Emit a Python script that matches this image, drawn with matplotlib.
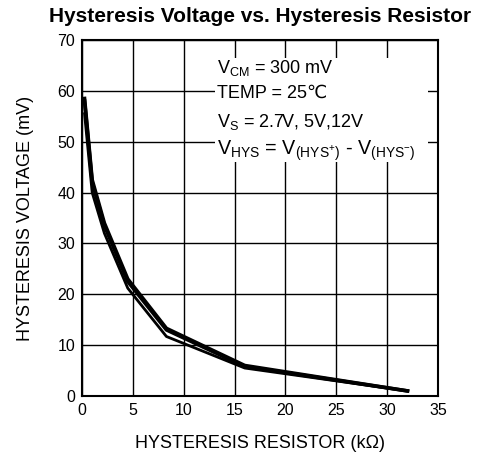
import matplotlib
matplotlib.use("Agg")
import matplotlib.pyplot as plt

plt.rcParams['font.family'] = ['Liberation Sans', 'DejaVu Sans']
plt.rcParams['mathtext.fontset'] = 'custom'
plt.rcParams['mathtext.rm'] = 'Liberation Sans'
plt.rcParams['mathtext.it'] = 'Liberation Sans'

# Hysteresis resistor (kOhm) vs hysteresis voltage (mV), three supply voltages
r_kohm = [0.25, 1.0, 2.2, 4.5, 8.3, 16.0, 32.0]
vhys_12v = [58.5, 42.5, 34.0, 23.0, 13.3, 6.0, 1.0]
vhys_5v = [58.0, 42.0, 33.5, 22.5, 13.0, 5.8, 1.0]
vhys_27v = [55.5, 40.0, 32.0, 21.2, 11.7, 5.5, 1.0]

x_ticks = [0, 5, 10, 15, 20, 25, 30, 35]
y_ticks = [0, 10, 20, 30, 40, 50, 60, 70]

fig = plt.figure(figsize=(4.87, 4.66), dpi=100)
ax = fig.add_axes([0.1684, 0.1502, 0.731, 0.764])

ax.plot(r_kohm, vhys_12v, color='black', lw=2.6, zorder=3)
ax.plot(r_kohm, vhys_5v, color='black', lw=2.6, zorder=3)
ax.plot(r_kohm, vhys_27v, color='black', lw=2.0, zorder=3)

ax.set_xlim(0, 35)
ax.set_ylim(0, 70)
ax.set_xticks(x_ticks)
ax.set_yticks(y_ticks)
ax.grid(True, color='black', lw=1.0)
ax.set_axisbelow(True)
ax.tick_params(length=0, labelsize=11.5)
ax.tick_params(axis='x', pad=5)
ax.tick_params(axis='y', pad=5)
for s in ax.spines.values():
    s.set_linewidth(1.5)

ax.set_xlabel('HYSTERESIS RESISTOR (k\u03a9)', fontsize=13, labelpad=12)
ax.set_ylabel('HYSTERESIS VOLTAGE (mV)', fontsize=13, labelpad=17)
ax.set_title('Hysteresis Voltage vs. Hysteresis Resistor', fontsize=15,
             fontweight='bold', pad=13)

# white box for conditions
ax.add_patch(plt.Rectangle((13.1, 46.0), 20.9, 20.5, facecolor='white',
                           edgecolor='none', zorder=2))
tx = 13.3
ax.text(tx, 63.5, r'$\mathregular{V_{CM}}$ = 300 mV', fontsize=13, zorder=4, va='baseline')
ax.text(tx, 58.6, 'TEMP = 25\u2103', fontsize=13, zorder=4, va='baseline')
ax.text(tx, 52.9, r'$\mathregular{V_S}$ = 2.7V, 5V,12V', fontsize=13, zorder=4, va='baseline')
ax.text(tx, 47.4, r'$\mathregular{V_{HYS}}$ = $\mathregular{V_{(HYS^{+})}}$ - $\mathregular{V_{(HYS^{-})}}$',
        fontsize=14.2, zorder=4, va='baseline')

fig.savefig('out.png', dpi=100)
